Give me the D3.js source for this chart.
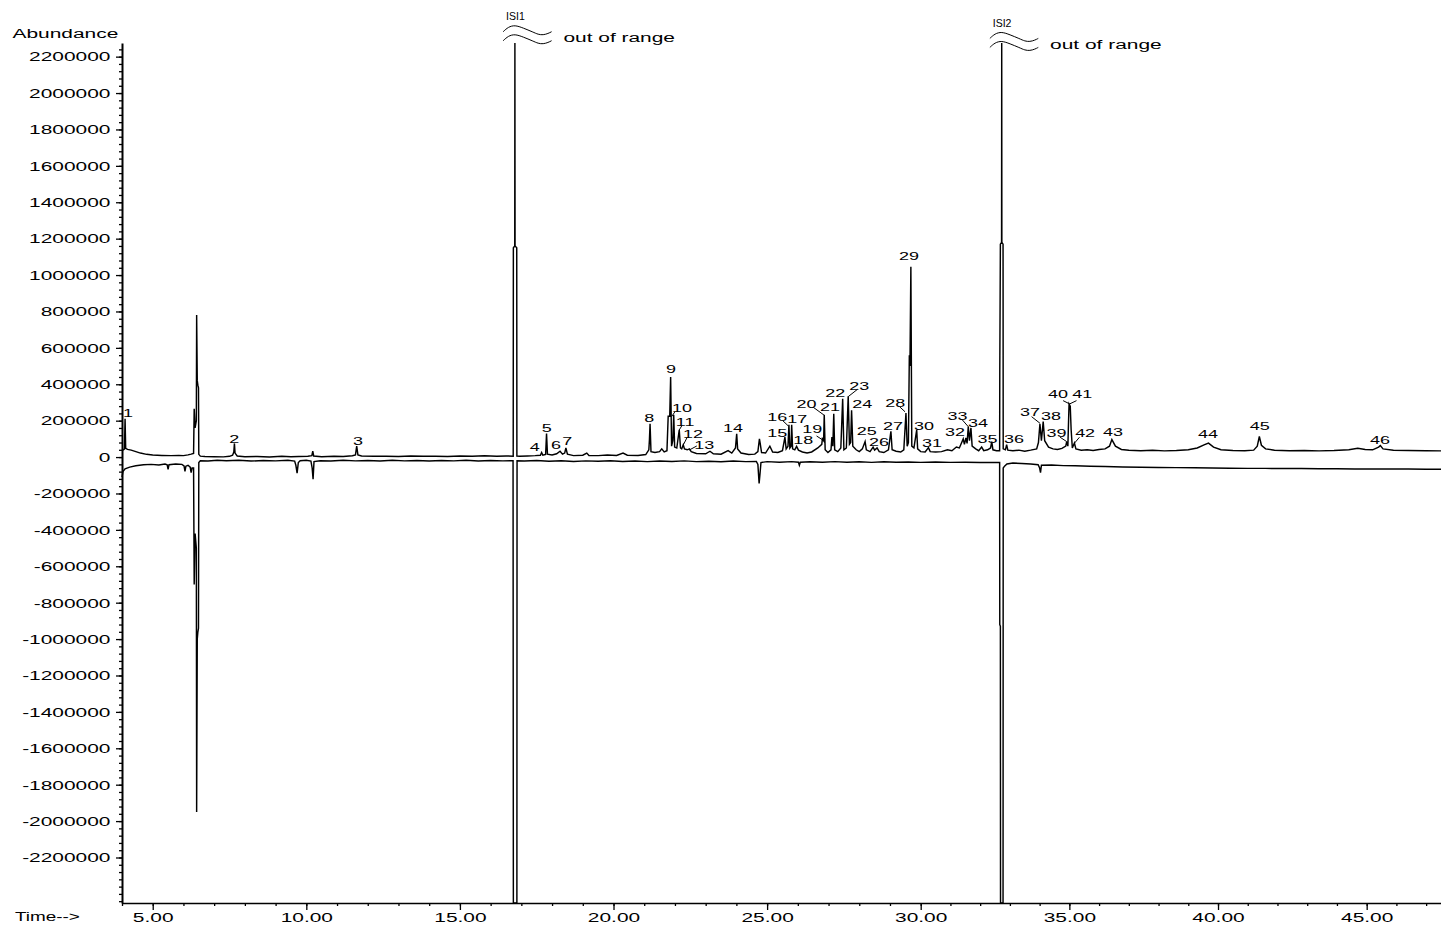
<!DOCTYPE html>
<html><head><meta charset="utf-8">
<script src="https://cdn.jsdelivr.net/npm/d3@7"></script>
<style>
body{margin:0;background:#fff}
svg{display:block;background:#fff}
text{font-family:"Liberation Sans",Arial,sans-serif;fill:#000;font-size:13.5px}
</style>
</head><body>
<svg id="c" width="1441" height="926"></svg>
<script>
// ---------- DATA ----------
const timeTicks = [5, 10, 15, 20, 25, 30, 35, 40, 45];
const abundanceTicks = [2200000, 2000000, 1800000, 1600000, 1400000, 1200000, 1000000, 800000, 600000, 400000, 200000, 0,
  -200000, -400000, -600000, -800000, -1000000, -1200000, -1400000, -1600000, -1800000, -2000000, -2200000];

// upper chromatogram [time (min), abundance]
const upperTrace = [
 [4.00,38000],[4.05,40000],[4.08,45000],[4.10,210000],[4.12,48000],[4.18,42000],[4.30,38000],[4.45,30000],[4.60,22000],
 [4.80,15000],[5.00,11000],[5.30,9000],[5.60,8000],[5.85,9000],[6.00,8000],[6.15,12000],[6.25,16000],[6.33,20000],
 [6.35,265000],[6.38,160000],[6.42,200000],[6.43,780000],[6.45,420000],[6.47,395000],[6.49,380000],[6.50,15000],
 [6.55,5000],[6.70,3000],[7.00,2000],[7.30,1000],[7.50,4000],[7.60,10000],[7.64,28000],[7.66,75000],[7.68,22000],
 [7.75,6000],[8.00,2000],[8.40,3000],[8.80,0],[9.20,4000],[9.50,2000],[9.75,3000],[10.05,5000],[10.18,8000],
 [10.21,32000],[10.24,6000],[10.50,2000],[10.90,4000],[11.20,3000],[11.50,7000],[11.60,12000],[11.64,60000],
 [11.68,12000],[11.80,6000],[12.20,4000],[12.60,5000],[13.00,3000],[13.40,6000],[13.80,4000],[14.20,5000],
 [14.60,3000],[15.00,6000],[15.40,4000],[15.80,7000],[16.20,5000],[16.50,6000],[16.735,5000],
 [16.74,1150000],[16.785,1160000],[16.79,2600000],[16.795,1160000],[16.85,1150000],[16.855,5000],
 [16.95,4000],[17.20,6000],[17.45,8000],[17.62,10000],[17.66,25000],[17.70,10000],[17.79,14000],[17.82,130000],
 [17.85,16000],[18.00,12000],[18.15,18000],[18.26,32000],[18.34,16000],[18.41,22000],[18.45,50000],[18.50,16000],
 [18.70,8000],[19.00,10000],[19.13,22000],[19.20,9000],[19.50,8000],[19.80,11000],[20.10,9000],[20.31,22000],
 [20.45,10000],[20.80,9000],[21.05,14000],[21.15,40000],[21.17,96000],[21.19,183000],[21.22,30000],[21.35,25000],
 [21.50,30000],[21.57,45000],[21.65,28000],[21.74,35000],[21.78,224000],[21.83,224000],[21.86,440000],[21.89,60000],
 [21.93,90000],[21.96,232000],[21.99,55000],[22.06,50000],[22.14,150000],[22.18,50000],[22.22,45000],[22.27,68000],
 [22.31,45000],[22.40,40000],[22.47,45000],[22.53,30000],[22.70,20000],[23.00,18000],[23.14,32000],[23.25,18000],
 [23.50,16000],[23.73,35000],[23.85,22000],[23.97,50000],[24.01,128000],[24.04,45000],[24.15,22000],[24.40,14000],
 [24.60,16000],[24.70,30000],[24.75,100000],[24.78,70000],[24.82,25000],[24.95,22000],[25.09,60000],[25.18,28000],
 [25.35,25000],[25.50,35000],[25.58,110000],[25.62,45000],[25.68,60000],[25.71,178000],[25.74,50000],[25.78,60000],
 [25.80,178000],[25.83,45000],[25.90,40000],[25.96,59000],[26.02,38000],[26.15,28000],[26.30,22000],[26.45,28000],
 [26.65,50000],[26.78,70000],[26.80,100000],[26.84,90000],[26.86,233000],[26.89,40000],[26.98,25000],[27.08,40000],
 [27.11,110000],[27.14,60000],[27.17,238000],[27.20,40000],[27.30,30000],[27.40,50000],[27.46,320000],[27.50,40000],
 [27.58,50000],[27.64,334000],[27.68,70000],[27.72,80000],[27.75,257000],[27.79,60000],[27.90,40000],[28.00,30000],
 [28.10,45000],[28.19,85000],[28.23,40000],[28.35,30000],[28.45,55000],[28.50,38000],[28.58,50000],[28.65,30000],
 [28.80,25000],[28.95,40000],[29.03,142000],[29.07,40000],[29.20,32000],[29.35,28000],[29.45,40000],[29.52,242000],
 [29.56,60000],[29.60,80000],[29.63,560000],[29.65,500000],[29.68,1045000],[29.71,60000],[29.78,50000],[29.87,150000],
 [29.90,45000],[30.00,30000],[30.15,28000],[30.26,52000],[30.32,30000],[30.50,28000],[30.70,30000],[30.90,40000],
 [31.05,35000],[31.20,55000],[31.30,50000],[31.43,100000],[31.47,70000],[31.52,105000],[31.56,75000],[31.60,168000],
 [31.64,90000],[31.69,160000],[31.73,60000],[31.85,45000],[31.95,35000],[32.05,55000],[32.12,35000],[32.25,40000],
 [32.35,50000],[32.39,85000],[32.43,40000],[32.55,35000],[32.655,35000],
 [32.66,480000],[32.68,1170000],[32.72,1180000],[32.725,2600000],[32.73,1180000],[32.77,1170000],[32.775,45000],
 [32.85,40000],[32.89,68000],[32.93,38000],[33.10,35000],[33.30,38000],[33.50,32000],[33.70,38000],[33.90,45000],
 [33.96,80000],[34.01,183000],[34.06,90000],[34.12,195000],[34.17,90000],[34.30,55000],[34.45,45000],[34.60,42000],
 [34.75,48000],[34.88,60000],[34.91,85000],[34.95,60000],[34.97,180000],[34.99,292000],[35.03,280000],[35.06,150000],
 [35.10,50000],[35.17,77000],[35.22,45000],[35.40,38000],[35.60,40000],[35.80,36000],[36.00,42000],[36.20,45000],
 [36.35,60000],[36.43,96000],[36.55,60000],[36.75,42000],[37.00,38000],[37.40,35000],[37.80,38000],[38.20,34000],
 [38.60,36000],[39.00,40000],[39.30,50000],[39.55,68000],[39.68,77000],[39.85,55000],[40.10,40000],[40.50,36000],
 [40.90,35000],[41.20,38000],[41.32,60000],[41.39,113000],[41.46,65000],[41.60,45000],[41.90,38000],[42.40,35000],
 [42.90,36000],[43.40,34000],[43.90,36000],[44.40,40000],[44.70,48000],[44.95,42000],[45.20,40000],[45.40,55000],
 [45.46,63000],[45.55,45000],[45.90,38000],[46.40,36000],[47.00,35000],[47.50,34000]
];

// lower (inverted) chromatogram [time (min), abundance]
const lowerTrace = [
 [4.00,-110000],[4.03,-80000],[4.10,-65000],[4.25,-55000],[4.45,-48000],[4.70,-42000],[4.95,-40000],[5.20,-43000],
 [5.40,-38000],[5.47,-42000],[5.50,-68000],[5.53,-42000],[5.75,-38000],[5.95,-40000],[6.02,-48000],[6.05,-78000],
 [6.08,-50000],[6.15,-45000],[6.22,-55000],[6.25,-85000],[6.28,-60000],[6.33,-60000],[6.35,-700000],[6.38,-420000],
 [6.42,-500000],[6.43,-1950000],[6.45,-1000000],[6.47,-960000],[6.49,-940000],[6.50,-30000],[6.55,-20000],
 [6.80,-22000],[7.10,-18000],[7.40,-20000],[7.80,-18000],[8.20,-22000],[8.60,-19000],[9.00,-21000],[9.40,-18000],
 [9.62,-22000],[9.66,-45000],[9.70,-88000],[9.74,-30000],[9.80,-20000],[10.00,-18000],[10.15,-22000],[10.19,-60000],
 [10.22,-122000],[10.25,-25000],[10.45,-20000],[10.80,-22000],[11.20,-18000],[11.60,-21000],[12.00,-19000],
 [12.40,-22000],[12.80,-18000],[13.20,-21000],[13.60,-19000],[14.00,-22000],[14.40,-19000],[14.80,-21000],
 [15.20,-18000],[15.60,-22000],[16.00,-19000],[16.40,-21000],[16.73,-20000],
 [16.74,-2600000],[16.855,-2600000],[16.86,-20000],
 [17.10,-22000],[17.50,-19000],[17.90,-23000],[18.30,-20000],[18.70,-24000],[19.10,-21000],[19.50,-23000],
 [19.90,-20000],[20.30,-24000],[20.70,-22000],[21.10,-25000],[21.50,-22000],[21.90,-24000],[22.30,-21000],
 [22.70,-25000],[23.10,-23000],[23.50,-26000],[23.90,-22000],[24.30,-25000],[24.65,-24000],[24.70,-40000],
 [24.74,-145000],[24.77,-90000],[24.80,-30000],[25.00,-25000],[25.40,-28000],[25.80,-25000],[26.02,-28000],
 [26.05,-45000],[26.08,-28000],[26.40,-26000],[26.80,-28000],[27.20,-25000],[27.60,-28000],[28.00,-26000],
 [28.40,-29000],[28.80,-26000],[29.20,-28000],[29.60,-27000],[30.00,-29000],[30.50,-27000],[31.00,-29000],
 [31.50,-28000],[32.00,-30000],[32.40,-29000],[32.655,-30000],
 [32.66,-920000],[32.68,-930000],[32.685,-2600000],[32.77,-2600000],[32.775,-60000],
 [32.82,-50000],[32.90,-38000],[33.10,-33000],[33.40,-35000],[33.70,-38000],[33.95,-42000],[34.00,-60000],
 [34.03,-85000],[34.06,-45000],[34.40,-44000],[34.80,-47000],[35.20,-48000],[35.70,-50000],[36.20,-52000],
 [36.80,-54000],[37.40,-56000],[38.00,-57000],[38.60,-58000],[39.20,-59000],[39.80,-60000],[40.40,-61000],
 [41.00,-62000],[41.60,-62000],[42.20,-63000],[42.80,-63000],[43.40,-64000],[44.00,-64000],[44.60,-65000],
 [45.20,-65000],[45.80,-66000],[46.40,-66000],[47.00,-67000],[47.50,-67000]
];

// peak labels: id, label anchor time, label anchor abundance (text baseline)
const peakIds = ["1","2","3","4","5","6","7","8","9","10","11","12","13","14","15","16","17","18","19","20","21","22","23",
  "24","25","26","27","28","29","30","31","32","33","34","35","36","37","38","39","40","41","42","43","44","45","46"];
const labelTime = [4.195,7.65,11.68,17.44,17.83,18.13,18.49,21.16,21.87,22.23,22.33,22.59,22.95,23.89,25.33,25.33,25.98,
  26.18,26.47,26.28,27.05,27.22,28.00,28.10,28.24,28.64,29.10,29.17,29.62,30.11,30.38,31.15,31.24,31.93,32.25,33.14,
  33.68,34.38,34.57,34.62,35.43,35.53,36.47,39.66,41.40,45.45];
const labelAbund = [220000,77000,66000,34000,138000,45000,66000,193000,462000,248000,171000,105000,45000,138000,110000,
  198000,187000,72000,132000,270000,253000,330000,369000,270000,124000,60000,149000,275000,1083000,149000,56000,116000,
  204000,165000,77000,77000,226000,204000,110000,325000,325000,110000,116000,105000,149000,72000];

// leader lines [t1, a1, t2, a2]
const leaders = [
 [22.00,249000,21.89,222000],[22.22,171000,22.14,149000],[22.40,109000,22.27,66000],[22.71,61000,22.47,39000],
 [25.51,200000,25.69,171000],[26.61,116000,26.81,94000],[26.50,274000,26.85,231000],[27.94,372000,27.64,332000],
 [29.31,277000,29.49,249000],[31.38,208000,31.60,167000],[33.73,222000,34.01,186000],[34.69,109000,34.91,85000],
 [34.79,310000,35.01,292000],[35.24,310000,35.01,292000],[35.34,109000,35.17,76000]
];

// off-scale internal standards
const breakNames = ["ISI1", "ISI2"];
const breakTimes = [16.79, 32.72];
const breakText = "out of range";

// ---------- LAYOUT ----------
const SX = 1.55;               // horizontal stretch of the bitmap-like font
const breakTop = [25, 31.7];   // top of the break glyph per standard (px)

const svg = d3.select("#c");
const x = d3.scaleLinear().domain([4.0, 30, 47.5]).range([122, 920.7, 1441]);
const y = d3.scaleLinear().domain([-2450000, 2275000]).range([903, 43]).clamp(true);

// traces
const line = d3.line().x(d => x(d[0])).y(d => y(d[1]));
[upperTrace, lowerTrace].forEach(tr => {
  svg.append("path").datum(tr).attr("d", line)
    .attr("fill", "none").attr("stroke", "#000").attr("stroke-width", 1.45).attr("stroke-linejoin", "miter");
});

// y axis
const gy = svg.append("g").attr("transform", `translate(${x.range()[0]},0)`);
gy.call(d3.axisLeft(y).tickValues(d3.range(-2440000, 2240001, 40000)).tickSize(3).tickSizeOuter(0).tickFormat(""));
gy.call(g => g.select(".domain").remove());
const gy2 = svg.append("g").attr("transform", `translate(${x.range()[0]},0)`);
gy2.call(d3.axisLeft(y).tickValues(abundanceTicks).tickSize(6).tickSizeOuter(0).tickFormat(d => String(d)));
gy2.selectAll("text").attr("x", -11.5 / SX).attr("transform", `scale(${SX},1)`).style("font-size", "13.5px")
  .style("font-family", "Liberation Sans, Arial, sans-serif");
gy2.select(".domain").attr("stroke-width", 2);

// x axis
const gx = svg.append("g").attr("transform", `translate(0,${y.range()[0]})`);
gx.call(d3.axisBottom(x).tickValues(d3.range(4, 48, 1)).tickSize(3).tickSizeOuter(0).tickFormat(""));
gx.call(g => g.select(".domain").remove());
const gx2 = svg.append("g").attr("transform", `translate(0,${y.range()[0]})`);
gx2.call(d3.axisBottom(x).tickValues(timeTicks).tickSize(7).tickSizeOuter(0).tickFormat(d => d.toFixed(2)));
gx2.selectAll("text").attr("y", 9).attr("transform", `scale(${SX},1)`).style("font-size", "13.5px")
  .style("font-family", "Liberation Sans, Arial, sans-serif");
gx2.select(".domain").attr("stroke-width", 1.6);
svg.selectAll(".tick line").attr("stroke", "#000").attr("stroke-width", 1.3);

// axis titles
svg.append("text").attr("transform", `translate(12.5,38) scale(${SX},1)`).text("Abundance");
svg.append("text").attr("transform", `translate(15,921) scale(1.4,1)`).text("Time-->");

// peak labels
svg.append("g").selectAll("text").data(peakIds).join("text")
  .attr("text-anchor", "middle").style("font-size", "11.6px")
  .attr("transform", (d, i) => `translate(${x(labelTime[i])},${y(labelAbund[i])}) scale(${SX},1)`)
  .text(d => d);
svg.append("g").selectAll("line").data(leaders).join("line")
  .attr("x1", d => x(d[0])).attr("y1", d => y(d[1]))
  .attr("x2", d => x(d[2])).attr("y2", d => y(d[3]))
  .attr("stroke", "#000").attr("stroke-width", 1);

// break glyphs for off-scale peaks
const tilde = d3.line().curve(d3.curveBasis);
const tildePts = [[0,6.7],[5,2],[11.7,0],[20,3],[29.7,7],[35,9.5],[40,10],[45,8.5],[48.4,6.7]];
breakNames.forEach((nm, i) => {
  const px = x(breakTimes[i]);
  const x0 = px - 11.7, yt = breakTop[i];
  const g = svg.append("g");
  [0, 9].forEach(off => {
    g.append("path").attr("d", tilde(tildePts.map(p => [x0 + p[0], yt + off + p[1]])))
      .attr("fill", "none").attr("stroke", "#000").attr("stroke-width", 1);
  });
  g.append("text").attr("text-anchor", "middle").style("font-size", "10.5px")
    .attr("transform", `translate(${px + 0.5},${yt - 5})`).text(nm);
  g.append("text").attr("transform", `translate(${px + 48.5},${yt + 17}) scale(${SX},1)`).text(breakText);
});
</script>
</body></html>
